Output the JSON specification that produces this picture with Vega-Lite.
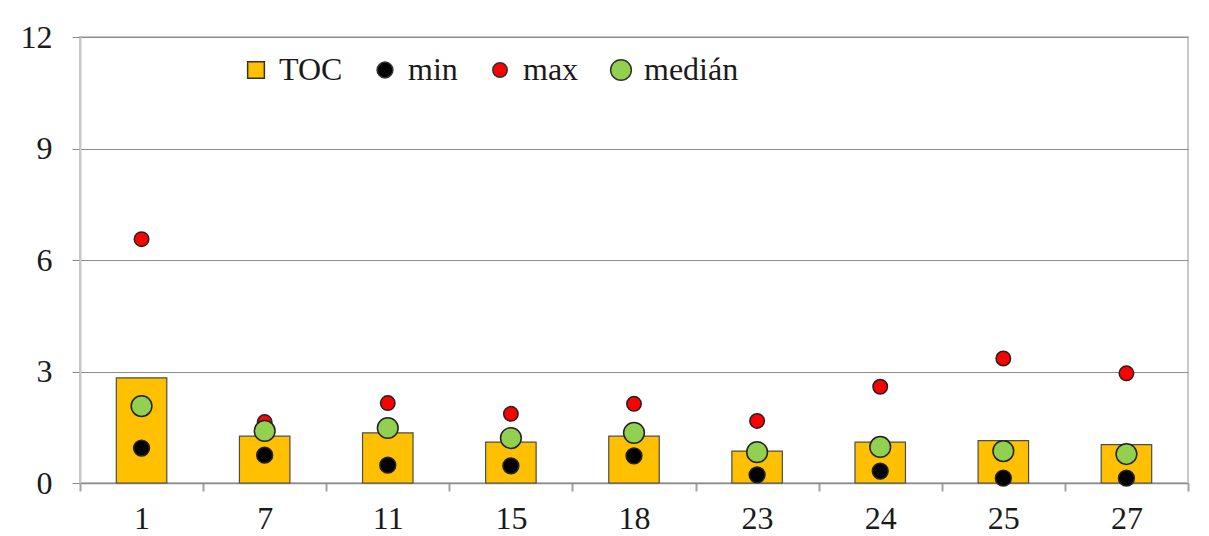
{
  "$schema": "https://vega.github.io/schema/vega-lite/v6.json",
  "width": 1108,
  "height": 446,
  "autosize": {"type": "none"},
  "padding": {"left": 80, "top": 37, "right": 21, "bottom": 53},
  "background": "#ffffff",
  "config": {
    "font": "Liberation Serif",
    "view": {"stroke": "#c8c8c8", "strokeWidth": 2},
    "axis": {
      "labelFont": "Liberation Serif",
      "labelFontSize": 32,
      "labelColor": "#1a1a1a",
      "title": null
    },
    "legend": {
      "labelFont": "Liberation Serif",
      "labelFontSize": 32,
      "labelColor": "#1a1a1a",
      "symbolStrokeColor": "#333333",
      "symbolStrokeWidth": 1.5
    }
  },
  "data": {
    "values": [
      {"site": "1", "series": "TOC", "value": 2.83},
      {"site": "7", "series": "TOC", "value": 1.26},
      {"site": "11", "series": "TOC", "value": 1.35},
      {"site": "15", "series": "TOC", "value": 1.1},
      {"site": "18", "series": "TOC", "value": 1.26},
      {"site": "23", "series": "TOC", "value": 0.86},
      {"site": "24", "series": "TOC", "value": 1.1},
      {"site": "25", "series": "TOC", "value": 1.14},
      {"site": "27", "series": "TOC", "value": 1.03},
      {"site": "1", "series": "min", "value": 0.94},
      {"site": "7", "series": "min", "value": 0.75},
      {"site": "11", "series": "min", "value": 0.48},
      {"site": "15", "series": "min", "value": 0.46},
      {"site": "18", "series": "min", "value": 0.73},
      {"site": "23", "series": "min", "value": 0.22},
      {"site": "24", "series": "min", "value": 0.32},
      {"site": "25", "series": "min", "value": 0.13},
      {"site": "27", "series": "min", "value": 0.13},
      {"site": "1", "series": "max", "value": 6.56},
      {"site": "7", "series": "max", "value": 1.64},
      {"site": "11", "series": "max", "value": 2.15},
      {"site": "15", "series": "max", "value": 1.86},
      {"site": "18", "series": "max", "value": 2.13},
      {"site": "23", "series": "max", "value": 1.67},
      {"site": "24", "series": "max", "value": 2.59},
      {"site": "25", "series": "max", "value": 3.35},
      {"site": "27", "series": "max", "value": 2.95},
      {"site": "1", "series": "medián", "value": 2.07},
      {"site": "7", "series": "medián", "value": 1.4},
      {"site": "11", "series": "medián", "value": 1.48},
      {"site": "15", "series": "medián", "value": 1.21},
      {"site": "18", "series": "medián", "value": 1.35},
      {"site": "23", "series": "medián", "value": 0.83},
      {"site": "24", "series": "medián", "value": 0.97},
      {"site": "25", "series": "medián", "value": 0.86},
      {"site": "27", "series": "medián", "value": 0.78}
    ]
  },
  "encoding": {
    "x": {
      "field": "site",
      "type": "nominal",
      "sort": ["1", "7", "11", "15", "18", "23", "24", "25", "27"],
      "scale": {"paddingInner": 0, "paddingOuter": 0},
      "axis": {
        "labelAngle": 0,
        "tickBand": "extent",
        "tickSize": 8,
        "tickColor": "#a0a0a0",
        "tickWidth": 2,
        "domainColor": "#8c8c8c",
        "domainWidth": 1.5,
        "labelPadding": 12,
        "labelFont": "Liberation Serif"
      }
    },
    "y": {
      "field": "value",
      "type": "quantitative",
      "scale": {"domain": [0, 12], "nice": false},
      "axis": {
        "values": [0, 3, 6, 9, 12],
        "tickSize": 8,
        "tickColor": "#8c8c8c",
        "gridColor": "#8c8c8c",
        "gridWidth": 1.2,
        "domainColor": "#c8c8c8",
        "domainWidth": 2,
        "labelPadding": 20,
        "labelFont": "Liberation Serif"
      }
    },
    "color": {
      "field": "series",
      "type": "nominal",
      "scale": {
        "domain": ["TOC", "min", "max", "medián"],
        "range": ["#FFC000", "#000000", "#FF0000", "#92D050"]
      },
      "legend": {
        "title": null,
        "orient": "none",
        "direction": "horizontal",
        "legendX": 160,
        "legendY": 17,
        "columnPadding": 26,
        "labelOffset": 7,
        "labelFont": "Liberation Serif",
        "labelFontSize": 32,
        "symbolStrokeColor": "#333333",
        "symbolStrokeWidth": 1.5,
        "encode": {
          "symbols": {"update": {"stroke": {"value": "#333333"}, "strokeWidth": {"value": 1.5}}},
          "labels": {"update": {"font": {"value": "Liberation Serif"}}}
        }
      }
    }
  },
  "layer": [
    {
      "transform": [{"filter": "datum.series === 'TOC'"}],
      "mark": {"type": "bar", "width": {"band": 0.41}, "stroke": "#4d4d4d", "strokeWidth": 1.2}
    },
    {
      "transform": [{"filter": "datum.series !== 'TOC'"}],
      "mark": {"type": "point", "filled": true, "opacity": 1, "stroke": "#222222", "strokeWidth": 1.5},
      "encoding": {
        "shape": {
          "field": "series",
          "type": "nominal",
          "scale": {
            "domain": ["TOC", "min", "max", "medián"],
            "range": ["square", "circle", "circle", "circle"]
          },
          "legend": {"title": null}
        },
        "size": {
          "field": "series",
          "type": "nominal",
          "scale": {
            "type": "ordinal",
            "domain": ["TOC", "min", "max", "medián"],
            "range": [280, 250, 210, 430]
          },
          "legend": {"title": null}
        }
      }
    }
  ]
}
